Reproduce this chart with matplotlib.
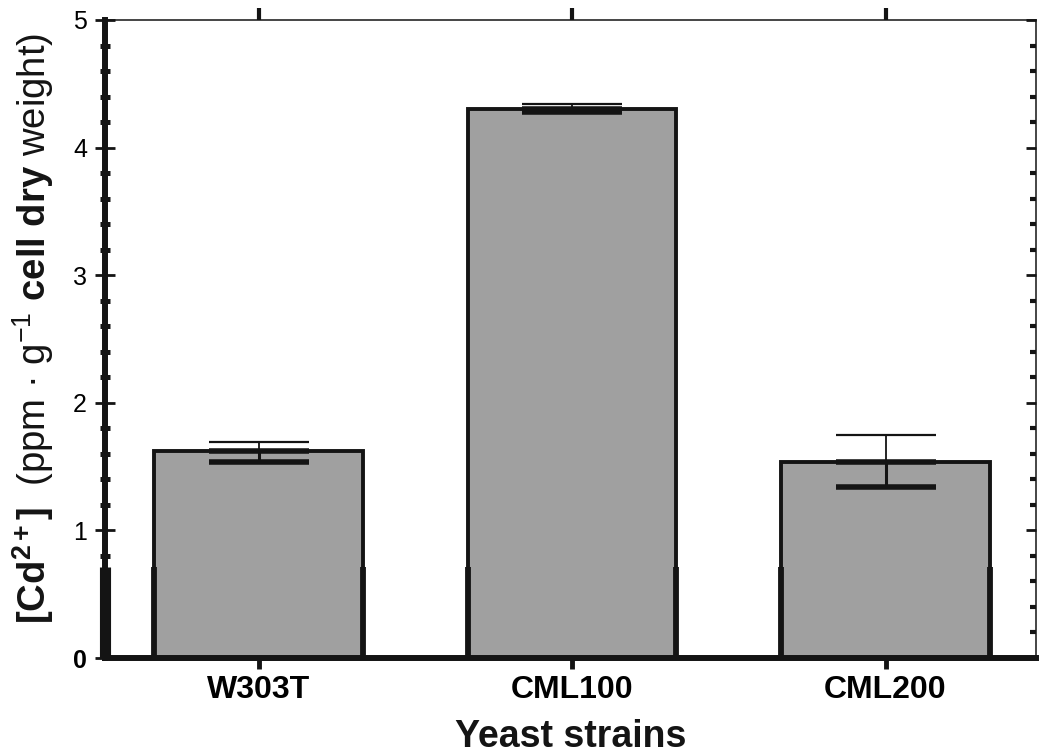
import matplotlib
matplotlib.use("Agg")
import matplotlib.pyplot as plt
import numpy as np
from matplotlib.ticker import MultipleLocator

# ---- data ----
strains = ["W303T", "CML100", "CML200"]
cd_content = [1.62, 4.30, 1.54]
err_upper = [0.07, 0.04, 0.21]
err_lower = [0.08, 0.02, 0.20]
y_ticks = [0, 1, 2, 3, 4, 5]
artifact_top = 0.71  # height of the thick scanned edge segments

plt.rcParams["font.family"] = ["Liberation Sans", "DejaVu Sans"]
plt.rcParams["mathtext.fontset"] = "custom"
plt.rcParams["mathtext.rm"] = "Liberation Sans"
plt.rcParams["mathtext.bf"] = "Liberation Sans:bold"
plt.rcParams["mathtext.it"] = "Liberation Sans:italic"

ink = "#141414"

fig = plt.figure(figsize=(10.39, 7.54), dpi=100)
ax = fig.add_axes([0.1011, 0.1273, 0.8960, 0.8462])

x = np.arange(len(strains))
bar_width = 0.665
bars = ax.bar(x, cd_content, width=bar_width, color="#a0a0a0",
              edgecolor=ink, linewidth=2.8, zorder=2)

# upper (thin) and lower (thick) error bars
ax.errorbar(x, cd_content, yerr=[np.zeros(len(x)), err_upper], fmt="none",
            ecolor=ink, elinewidth=1.3, capsize=36, capthick=1.6, zorder=3)
ax.errorbar(x, cd_content, yerr=[err_lower, np.zeros(len(x))], fmt="none",
            ecolor=ink, elinewidth=2.2, capsize=36, capthick=4.0, zorder=3)

ax.set_xlim(-0.49, 2.48)
ax.set_ylim(0, 5)

# thick lower edge segments (scan artefact in the original)
for p in bars:
    left = p.get_x()
    right = left + p.get_width()
    ax.vlines([left, right], 0, artifact_top, color=ink, lw=4.2, zorder=4)
ax.vlines(ax.get_xlim()[0], 0, artifact_top, color=ink, lw=8, zorder=5, clip_on=False)

# spines
ax.spines["left"].set_linewidth(4.3)
ax.spines["bottom"].set_linewidth(4.3)
ax.spines["top"].set_visible(False)
ax.spines["right"].set_visible(False)
for s in ax.spines.values():
    s.set_color(ink)

# y ticks
ax.set_yticks(y_ticks)
ax.yaxis.set_minor_locator(MultipleLocator(0.2))
ax.tick_params(axis="y", which="major", direction="inout", length=14, width=2,
               labelsize=18, pad=6, color=ink, right=False)
ax.tick_params(axis="y", which="minor", direction="inout", length=7, width=3.6,
               color=ink, right=False)
ax.get_yticklabels()[0].set_fontweight("bold")

# x ticks
ax.set_xticks(x, strains, fontweight="bold")
ax.tick_params(axis="x", which="major", direction="out", length=8, width=3.5,
               labelsize=23, pad=4, color=ink, top=False)

# top axis with outward ticks
secx = ax.secondary_xaxis("top")
secx.set_xticks(x, [""] * len(x))
secx.tick_params(direction="out", length=8.6, width=3, color=ink)
secx.spines["top"].set_linewidth(1.1)
secx.spines["top"].set_color(ink)

# right axis with inward ticks
secy = ax.secondary_yaxis("right")
secy.set_yticks(y_ticks, [""] * len(y_ticks))
secy.yaxis.set_minor_locator(MultipleLocator(0.2))
secy.tick_params(which="major", direction="in", length=7, width=2, color=ink)
secy.tick_params(which="minor", direction="in", length=4, width=3, color=ink)
secy.spines["right"].set_linewidth(1.1)
secy.spines["right"].set_color(ink)

# labels
fig.text(0.032, 0.565,
         r"$\mathbf{[Cd^{2+}]}$  (ppm · g$^{-1}$ $\mathbf{cell\ dry}$ weight)",
         rotation=90, ha="center", va="center", fontsize=27.5, color=ink)
fig.text(0.549, 0.009, "Yeast strains", ha="center", va="baseline",
         fontsize=27, fontweight="bold", color=ink)

fig.savefig("out.png", dpi=100)
